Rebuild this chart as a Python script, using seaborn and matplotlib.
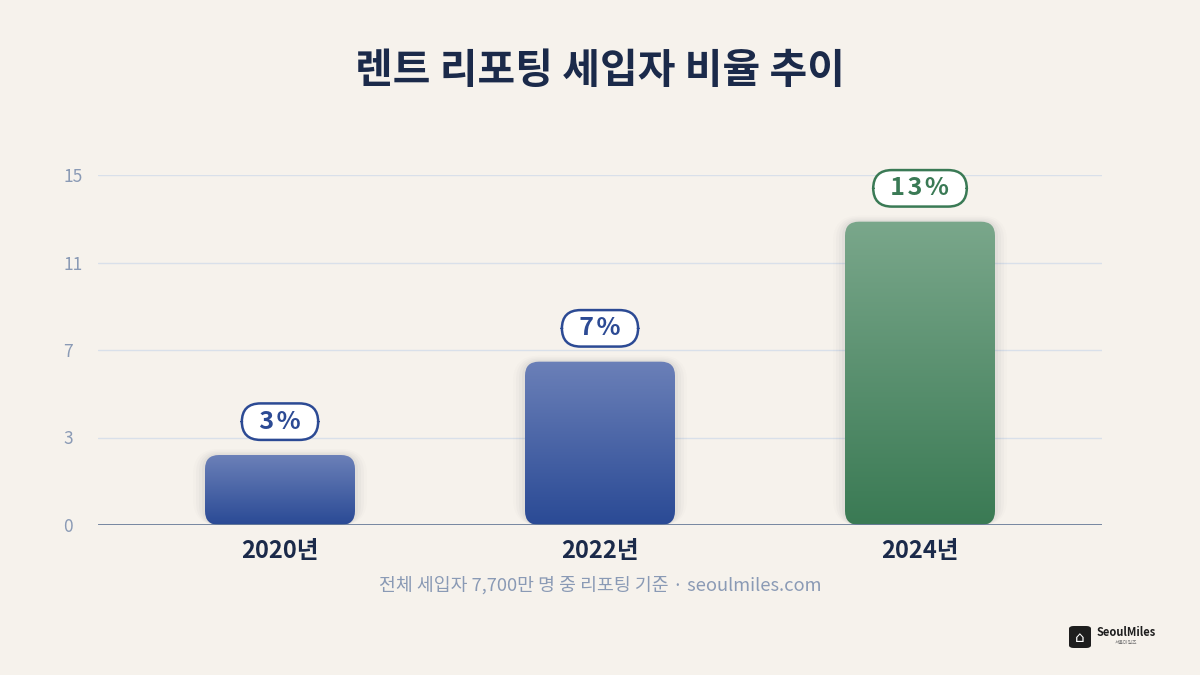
import matplotlib.pyplot as plt
import numpy as np
import pandas as pd
import seaborn as sns
from matplotlib.colors import LinearSegmentedColormap
from matplotlib.patches import FancyBboxPatch

years = ["2020년", "2022년", "2024년"]
share = [3, 7, 13]
labels = ["3%", "7%", "13%"]
tick_values = [0, 3.75, 7.5, 11.25, 15]
tick_labels = ["0", "3", "7", "11", "15"]

BG = "#f6f2ec"
NAVY = "#1b2a4a"
MUTED = "#8a9ab5"
BLUE = ("#6b80b8", "#2a4a95", "#2c4a94")
GREEN = ("#7aa78b", "#3a7a54", "#3a7a55")
bar_styles = [BLUE, BLUE, GREEN]

sns.set_theme(style="white")
plt.rcParams["font.family"] = ["Noto Sans CJK KR", "DejaVu Sans"]

df = pd.DataFrame({"year": years, "share": share})

fig = plt.figure(figsize=(12, 6.75), dpi=100, facecolor=BG)
ax = fig.add_axes([98 / 1200, 150 / 675, 1004 / 1200, 350 / 675])
ax.set_facecolor(BG)

bar_w = 150 / 320
sns.barplot(data=df, x="year", y="share", ax=ax, width=bar_w,
            color=BLUE[1], saturation=1, zorder=3)

xlo, xhi = -182 / 320, 2 + 182 / 320
ax.set_xlim(xlo, xhi)
ax.set_ylim(0, 15)

# corner radius in x data units, aspect converts it to y units
rx = 14 / 320
aspect = 320 / (350 / 15)

for patch, style in zip(list(ax.patches), bar_styles):
    x0, y0 = patch.get_x(), patch.get_y()
    w, h = patch.get_width(), patch.get_height()
    patch.set_visible(False)

    # soft shadow
    for k, a in [(12, 0.02), (9, 0.03), (6, 0.04), (3, 0.05)]:
        dx = k / 320
        sh = FancyBboxPatch((x0 - dx, y0), w + 2 * dx, h + dx * aspect * 0.5,
                            boxstyle=f"round,pad=0,rounding_size={rx + dx}",
                            mutation_aspect=aspect, fc="#6b6b6b", ec="none",
                            alpha=a, zorder=2, clip_on=False)
        ax.add_patch(sh)

    rp = FancyBboxPatch((x0, y0), w, h,
                        boxstyle=f"round,pad=0,rounding_size={rx}",
                        mutation_aspect=aspect, fc="none", ec="none", zorder=3)
    ax.add_patch(rp)
    cmap = LinearSegmentedColormap.from_list("g", [style[1], style[0]])
    grad = np.linspace(0, 1, 256).reshape(-1, 1)
    im = ax.imshow(grad, cmap=cmap, origin="lower", aspect="auto",
                   extent=(x0, x0 + w, y0, y0 + h), zorder=3)
    im.set_clip_path(rp)

ax.set_xlim(xlo, xhi)
ax.set_ylim(0, 15)

for i, (v, lab, style) in enumerate(zip(share, labels, bar_styles)):
    spaced = "\u200a".join(lab)
    ax.annotate(f"  {spaced}  ", xy=(i, v), xytext=(0, 24), textcoords="offset points",
                ha="center", va="center", fontsize=18, fontweight="bold",
                color=style[2], zorder=5, annotation_clip=False,
                bbox=dict(boxstyle="round,pad=0.25,rounding_size=0.75",
                          fc="white", ec=style[2], lw=1.8))

ax.set_yticks(tick_values)
ax.set_yticklabels(tick_labels)
ax.yaxis.grid(True, color="#d9e0ea", lw=1, zorder=0)
ax.xaxis.grid(False)
ax.axhline(0, color="#6b7d9a", lw=2, zorder=4)
for s in ax.spines.values():
    s.set_visible(False)
ax.tick_params(axis="y", length=0, pad=25, labelsize=12.5, labelcolor=MUTED)
for t in ax.get_yticklabels():
    t.set_horizontalalignment("left")
ax.tick_params(axis="x", length=0, pad=10, labelsize=17, labelcolor=NAVY)
for t in ax.get_xticklabels():
    t.set_fontweight(600)
ax.set_xlabel("")
ax.set_ylabel("")

fig.text(0.5, 1 - 71 / 675, "렌트 리포팅 세입자 비율 추이", ha="center", va="center",
         fontsize=29.5, fontweight="bold", color=NAVY)
fig.text(0.5, 1 - 585 / 675, "전체 세입자 7,700만 명 중 리포팅 기준 · seoulmiles.com",
         ha="center", va="center", fontsize=13.2, color=MUTED)

# logo
logo = FancyBboxPatch((1069 / 1200, 1 - 648 / 675), 22 / 1200, 22 / 675,
                      boxstyle="round,pad=0,rounding_size=0.004",
                      transform=fig.transFigure, fc="#1e1e1e", ec="none")
fig.patches.append(logo)
fig.text(1080 / 1200, 1 - 637 / 675, "⌂", ha="center", va="center",
         fontsize=11, color="white", family=["DejaVu Sans"])
fig.text(1097 / 1200, 1 - 632 / 675, "SeoulMiles", ha="left", va="center",
         fontsize=8, fontweight="bold", color="#1e1e1e")
fig.text(1126 / 1200, 1 - 642 / 675, "서울마일즈", ha="center", va="center",
         fontsize=3.5, color="#777777")

fig.savefig("out.png", dpi=100, facecolor=BG)
